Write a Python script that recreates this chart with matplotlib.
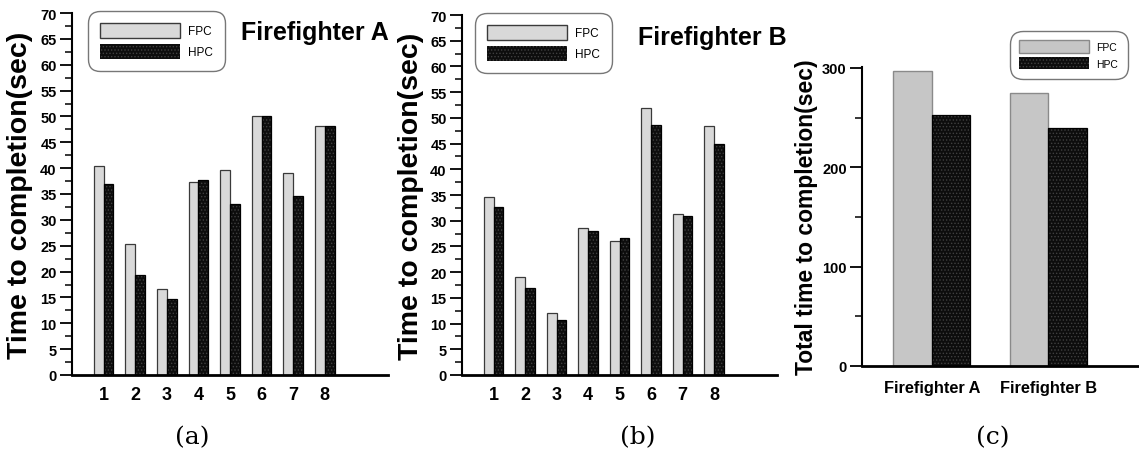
import numpy as np
import matplotlib
matplotlib.use("Agg")
import matplotlib.pyplot as plt
from matplotlib.patches import Patch
from matplotlib.ticker import MultipleLocator

plt.rcParams['font.family'] = ['Liberation Sans', 'DejaVu Sans']
plt.rcParams['hatch.linewidth'] = 0.6

# data
trials = [1, 2, 3, 4, 5, 6, 7, 8]
fpc_a = [40.4, 25.3, 16.6, 37.4, 39.7, 50.0, 39.1, 48.1]
hpc_a = [36.9, 19.3, 14.6, 37.7, 33.0, 50.0, 34.7, 48.1]
fpc_b = [34.6, 19.0, 12.0, 28.6, 26.0, 52.0, 31.4, 48.5]
hpc_b = [32.7, 17.0, 10.6, 28.0, 26.7, 48.7, 31.0, 45.0]
fighters = ['Firefighter A', 'Firefighter B']
fpc_total = [296.6, 274.7]
hpc_total = [252.4, 240.0]

W, H = 1139, 456
fig = plt.figure(figsize=(W / 100, H / 100), dpi=100)
HPC_DOTS = '#404040'


def px(x0, y_top, x1, y_bot):
    return [x0 / W, 1 - y_bot / H, (x1 - x0) / W, (y_bot - y_top) / H]


def hpc_bars(ax, x, h, w):
    ax.bar(x, h, w, color='#0d0d0d', edgecolor=HPC_DOTS, hatch='.....', linewidth=0)
    ax.bar(x, h, w, fill=False, edgecolor='black', linewidth=0.9)


def legend_handles(fpc_color, fpc_edge):
    return [Patch(facecolor=fpc_color, edgecolor=fpc_edge, linewidth=1.0, label='FPC'),
            Patch(facecolor='#0d0d0d', edgecolor=HPC_DOTS, hatch='.....', linewidth=0, label='HPC')]


def style_axes(ax):
    for s in ['top', 'right']:
        ax.spines[s].set_visible(False)
    ax.spines['left'].set_linewidth(1.5)
    ax.spines['bottom'].set_linewidth(2.0)
    ax.tick_params(axis='y', which='major', direction='out', length=9, width=1.3, labelsize=10.5, pad=2)
    ax.tick_params(axis='y', which='minor', direction='out', length=5, width=1.1)
    ax.tick_params(axis='x', length=0)
    for lab in ax.get_yticklabels():
        lab.set_fontweight('bold')


def style_legend(leg, rs):
    fr = leg.get_frame()
    fr.set_boxstyle('round', pad=0, rounding_size=rs)
    fr.set_edgecolor('#777777')
    fr.set_linewidth(1.0)


def trial_panel(rect, fpc, hpc, title, title_xy, leg_xy, cap, cap_x, ylab_x):
    ax = fig.add_axes(rect)
    x = np.array(trials)
    bw = 0.31
    ax.bar(x - bw / 2, fpc, bw, color='#d9d9d9', edgecolor='#3a3a3a', linewidth=0.9)
    hpc_bars(ax, x + bw / 2, hpc, bw)
    ax.set_xlim(0, 10)
    ax.set_ylim(0, 70)
    ax.yaxis.set_major_locator(MultipleLocator(5))
    ax.yaxis.set_minor_locator(MultipleLocator(2.5))
    ax.set_xticks(trials)
    ax.set_xticklabels([str(t) for t in trials], fontsize=13, fontweight='bold')
    style_axes(ax)
    ax.tick_params(axis='x', pad=8)
    ax.set_ylabel('Time to completion(sec)', fontsize=20.5, fontweight='bold')
    ax.yaxis.set_label_coords((ylab_x - rect[0] * W) / (rect[2] * W), 0.5)
    fig.text(title_xy[0] / W, 1 - title_xy[1] / H, title, fontsize=18, fontweight='bold',
             ha='left', va='center')
    leg = ax.legend(handles=legend_handles('#d9d9d9', '#3a3a3a'), loc='upper left',
                    bbox_to_anchor=(leg_xy[0] / W, 1 - leg_xy[1] / H), bbox_transform=fig.transFigure,
                    fontsize=8.5, handlelength=6.8, handleheight=1.65, labelspacing=0.45,
                    handletextpad=0.7, borderpad=1.0, borderaxespad=0, fancybox=True, framealpha=1)
    style_legend(leg, 1.0)
    fig.text(cap_x / W, 1 - 438 / H, cap, fontsize=18, family='DejaVu Serif', ha='center', va='center')
    return ax


trial_panel(px(72, 14, 388, 376), fpc_a, hpc_a, 'Firefighter A', (241, 33), (88, 12), '(a)', 192, 33)
trial_panel(px(462, 16, 777, 376), fpc_b, hpc_b, 'Firefighter B', (638, 38), (475, 14), '(b)', 638, 424)

# panel (c): totals
rect = px(862, 68, 1139, 367)
ax = fig.add_axes(rect)
xc = np.array([1, 2])
bw = 0.33
ax.bar(xc - bw / 2, fpc_total, bw, color='#c6c6c6', edgecolor='#8a8a8a', linewidth=1.0)
hpc_bars(ax, xc + bw / 2, hpc_total, bw)
ax.set_xlim(0.4, 2.78)
ax.set_ylim(0, 301)
ax.yaxis.set_major_locator(MultipleLocator(100))
ax.yaxis.set_minor_locator(MultipleLocator(50))
ax.set_xticks(xc)
ax.set_xticklabels(fighters, fontsize=11.8, fontweight='bold')
style_axes(ax)
ax.tick_params(axis='x', pad=10)
ax.set_ylabel('Total time to completion(sec)', fontsize=16.5, fontweight='bold')
ax.yaxis.set_label_coords((818 - 862) / (rect[2] * W), 0.5)
leg = ax.legend(handles=legend_handles('#c6c6c6', '#8a8a8a'), loc='upper left',
                bbox_to_anchor=(1010 / W, 1 - 32 / H), bbox_transform=fig.transFigure,
                fontsize=7.5, handlelength=6.7, handleheight=1.45, labelspacing=0.4,
                handletextpad=0.7, borderpad=0.9, borderaxespad=0, fancybox=True, framealpha=1)
style_legend(leg, 1.2)
fig.text(993 / W, 1 - 438 / H, '(c)', fontsize=18, family='DejaVu Serif', ha='center', va='center')

fig.savefig('out.png', dpi=100)
